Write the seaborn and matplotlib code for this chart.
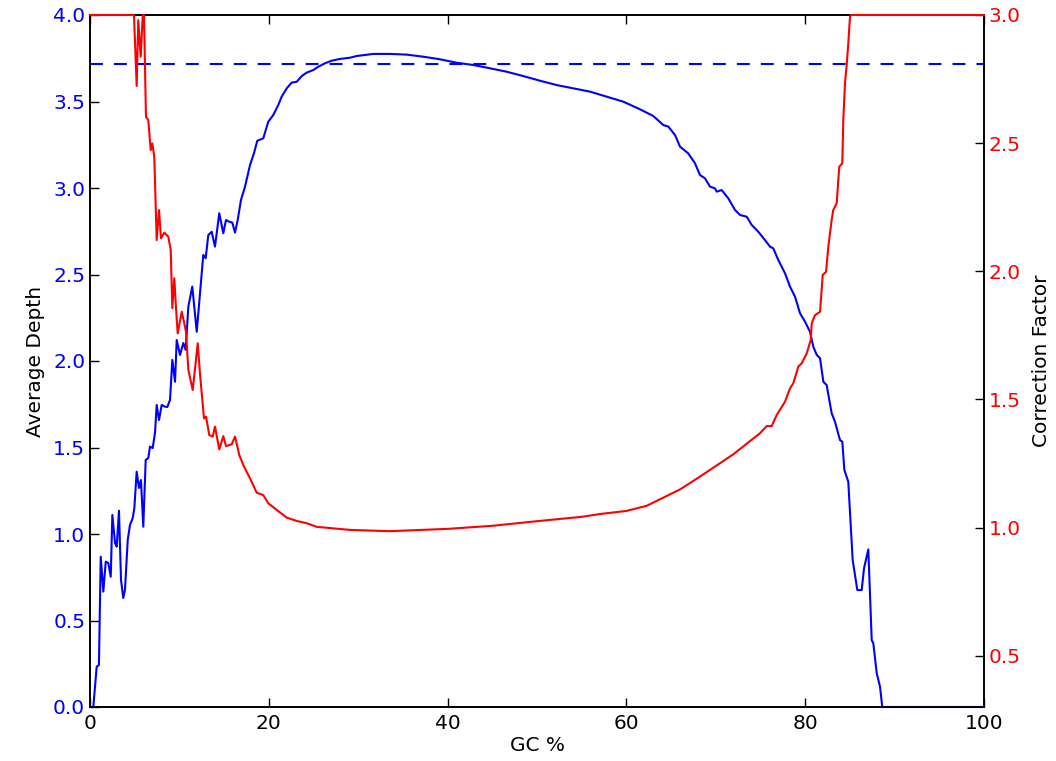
import numpy as np
import pandas as pd
import matplotlib
matplotlib.use("Agg")
import matplotlib.pyplot as plt
import seaborn as sns

# ---- data ----
depth_gc = [0.37, 0.75, 1.0, 1.2, 1.49, 1.76, 2.05, 2.32, 2.5, 2.8, 2.99, 3.24, 3.47, 3.72, 3.91,
            4.22, 4.47, 4.78, 4.96, 5.22, 5.48, 5.7, 5.96, 6.23, 6.52, 6.71, 7.01, 7.27, 7.46, 7.72,
            8.02, 8.39, 8.65, 8.95, 9.21, 9.51, 9.7, 10.07, 10.44, 10.7, 11.0, 11.44, 11.94, 12.3,
            12.67, 12.94, 13.23, 13.61, 13.98, 14.46, 14.91, 15.21, 15.58, 15.92, 16.22, 16.52,
            16.89, 17.34, 17.9, 18.34, 18.71, 19.38, 19.94, 20.5, 21.06, 21.44, 22.0, 22.56, 23.12,
            23.68, 24.24, 24.98, 25.54, 26.29, 27.04, 27.96, 29.08, 29.83, 31.69, 33.56, 35.42,
            37.28, 39.15, 41.02, 42.88, 44.74, 46.61, 48.47, 50.34, 52.2, 54.06, 55.93, 57.8,
            59.65, 61.52, 63.01, 64.13, 64.69, 65.44, 66.0, 66.92, 67.67, 68.23, 68.79, 69.35,
            69.91, 70.1, 70.66, 71.4, 72.15, 72.71, 73.46, 74.02, 74.76, 75.5, 76.06, 76.43,
            76.99, 77.74, 78.3, 78.86, 79.42, 79.98, 80.54, 80.9, 81.29, 81.66, 82.03, 82.4,
            82.96, 83.33, 83.89, 84.15, 84.38, 84.82, 85.31, 85.83, 86.32, 86.58, 87.06, 87.44,
            87.62, 88.0, 88.37, 88.62, 100.0]
depth_val = [0.0, 0.233, 0.243, 0.869, 0.667, 0.84, 0.832, 0.753, 1.11, 0.948, 0.927, 1.135, 0.734,
             0.63, 0.676, 0.965, 1.052, 1.092, 1.15, 1.36, 1.266, 1.312, 1.042, 1.428, 1.439, 1.505,
             1.497, 1.584, 1.746, 1.659, 1.746, 1.736, 1.734, 1.775, 2.006, 1.88, 2.121, 2.035,
             2.104, 2.064, 2.314, 2.43, 2.169, 2.391, 2.613, 2.594, 2.728, 2.747, 2.661, 2.854,
             2.738, 2.815, 2.805, 2.8, 2.742, 2.815, 2.931, 3.008, 3.133, 3.2, 3.273, 3.287, 3.383,
             3.422, 3.48, 3.528, 3.576, 3.609, 3.614, 3.647, 3.667, 3.682, 3.701, 3.721, 3.736,
             3.746, 3.753, 3.763, 3.775, 3.775, 3.771, 3.759, 3.744, 3.724, 3.711, 3.692, 3.672,
             3.647, 3.62, 3.595, 3.576, 3.557, 3.528, 3.499, 3.455, 3.416, 3.364, 3.355, 3.306,
             3.239, 3.2, 3.143, 3.075, 3.056, 3.008, 2.998, 2.979, 2.988, 2.94, 2.873, 2.844,
             2.834, 2.786, 2.747, 2.699, 2.661, 2.651, 2.584, 2.507, 2.43, 2.372, 2.276, 2.227,
             2.169, 2.083, 2.035, 2.016, 1.88, 1.861, 1.698, 1.649, 1.543, 1.534, 1.37, 1.302,
             0.85, 0.676, 0.676, 0.802, 0.911, 0.387, 0.368, 0.195, 0.117, 0.0, 0.0]

corr_gc = [0.0, 4.92, 5.22, 5.4, 5.67, 5.9, 6.04, 6.26, 6.52, 6.79, 6.97, 7.19, 7.46, 7.72, 7.94,
           8.31, 8.76, 9.03, 9.21, 9.43, 9.62, 9.81, 10.26, 10.51, 10.74, 11.0, 11.49, 12.05,
           12.3, 12.75, 12.98, 13.34, 13.72, 13.98, 14.46, 14.91, 15.21, 15.85, 16.22, 16.7,
           17.15, 17.9, 18.65, 19.38, 19.94, 20.88, 22.0, 23.12, 24.24, 25.36, 27.21, 29.08,
           33.5, 40.0, 45.0, 50.0, 55.0, 57.05, 60.0, 62.27, 66.0, 68.23, 71.96, 74.94, 75.69,
           76.25, 76.81, 77.74, 78.3, 78.67, 79.23, 79.61, 80.17, 80.62, 80.73, 81.1, 81.66,
           81.96, 82.33, 82.59, 82.96, 83.14, 83.52, 83.81, 84.15, 84.26, 84.45, 84.64, 84.82,
           85.01, 85.12, 100.0]
corr_val = [3.0, 3.0, 2.723, 2.98, 2.837, 3.0, 3.0, 2.603, 2.59, 2.473, 2.499, 2.447, 2.122, 2.239,
            2.129, 2.151, 2.135, 2.083, 1.856, 1.973, 1.856, 1.758, 1.842, 1.803, 1.764, 1.615,
            1.537, 1.719, 1.602, 1.426, 1.433, 1.361, 1.355, 1.394, 1.305, 1.357, 1.318, 1.325,
            1.355, 1.283, 1.244, 1.192, 1.136, 1.127, 1.095, 1.069, 1.039, 1.026, 1.017, 1.003,
            0.997, 0.991, 0.986, 0.995, 1.007, 1.025, 1.042, 1.053, 1.065, 1.085, 1.149, 1.199,
            1.286, 1.368, 1.396, 1.396, 1.439, 1.491, 1.543, 1.563, 1.628, 1.641, 1.68, 1.732,
            1.797, 1.829, 1.842, 1.986, 1.998, 2.096, 2.2, 2.239, 2.265, 2.408, 2.421, 2.59, 2.733,
            2.805, 2.889, 2.993, 3.0, 3.0]

mean_depth = 3.717

x_ticks = [0, 20, 40, 60, 80, 100]
left_ticks = [0.0, 0.5, 1.0, 1.5, 2.0, 2.5, 3.0, 3.5, 4.0]
right_ticks = [0.5, 1.0, 1.5, 2.0, 2.5, 3.0]

# ---- drawing ----
sns.set_style("white")
plt.rcParams["font.family"] = ["DejaVu Sans"]
plt.rcParams["text.color"] = "black"
plt.rcParams["axes.labelcolor"] = "black"
plt.rcParams["xtick.color"] = "black"
plt.rcParams["ytick.color"] = "black"

fig = plt.figure(figsize=(10.56, 7.61), dpi=100)
ax = fig.add_axes([90 / 1056, 54 / 761, 894 / 1056, 692 / 761])

df_d = pd.DataFrame({"gc": depth_gc, "depth": depth_val})
df_c = pd.DataFrame({"gc": corr_gc, "corr": corr_val})

sns.lineplot(data=df_d, x="gc", y="depth", ax=ax, color="#0000ff", lw=1.5,
             sort=False, estimator=None, clip_on=False, zorder=3)
ax.axhline(mean_depth, color="#0000ff", lw=1.5, linestyle=(0, (6.2, 5.3)))
ax.set_xlim(0, 100)
ax.set_ylim(0, 4.0)
ax.set_xticks(x_ticks)
ax.set_yticks(left_ticks)
ax.set_yticklabels([f"{v:.1f}" for v in left_ticks])
ax.set_xlabel("GC %", fontsize=14.5, labelpad=2, color="black")
ax.set_ylabel("Average Depth", fontsize=14.5, labelpad=6, color="black")
ax.tick_params(axis="both", direction="in", length=6.5, width=1, labelsize=14.5,
               color="black", top=True, bottom=True, left=True)
ax.tick_params(axis="x", pad=5, labelcolor="black")
ax.tick_params(axis="y", labelcolor="#0000ff")

ax2 = ax.twinx()
sns.lineplot(data=df_c, x="gc", y="corr", ax=ax2, color="#ff0000", lw=1.5,
             sort=False, estimator=None, clip_on=False, zorder=3)
ax2.set_ylim(0.3, 3.0)
ax2.set_yticks(right_ticks)
ax2.set_yticklabels([f"{v:.1f}" for v in right_ticks])
ax2.set_ylabel("Correction Factor", fontsize=14.5, labelpad=8, color="black")
ax2.tick_params(axis="y", direction="in", length=6.5, width=1, labelsize=14.5,
                labelcolor="#ff0000", color="black", right=True)
ax2.set_xlim(0, 100)

for a in (ax, ax2):
    for s in a.spines.values():
        s.set_color("black")
        s.set_linewidth(1.2)
        s.set_visible(True)

fig.savefig("out.png", dpi=100)
